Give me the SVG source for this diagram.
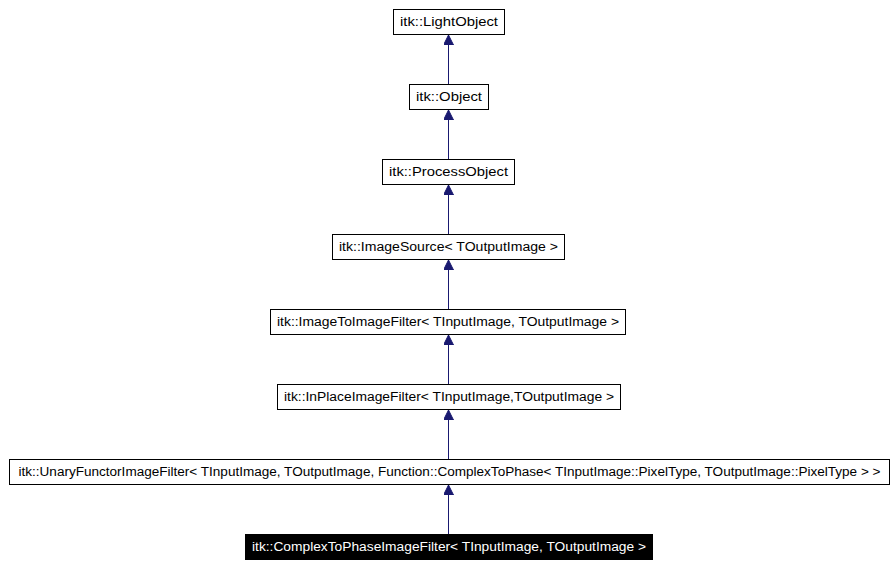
<svg xmlns="http://www.w3.org/2000/svg" width="895" height="564" viewBox="0 0 895 564">
<style>
.n rect{fill:#fff;stroke:#000;stroke-width:1}
.n text{font-family:"Liberation Sans",Arial,sans-serif;font-size:12.5px;text-anchor:middle;fill:#000}
#n8 rect{fill:#000}
#n8 text{fill:#fff}
.e{stroke:#191970;stroke-width:1;fill:none;marker-end:url(#a)}
</style>
<defs><marker id="a" markerWidth="10" markerHeight="12" refX="10" refY="5" orient="auto" markerUnits="userSpaceOnUse"><path d="M0,0 L10,5 L0,10 Z" fill="#191970" stroke="#191970"/></marker></defs>
<rect width="895" height="564" fill="#fff"/>
<g id="edges">
<line class="e" x1="448.5" y1="84" x2="448.5" y2="35"/>
<line class="e" x1="448.5" y1="159" x2="448.5" y2="110"/>
<line class="e" x1="448.5" y1="234" x2="448.5" y2="185"/>
<line class="e" x1="448.5" y1="309" x2="448.5" y2="260"/>
<line class="e" x1="448.5" y1="384" x2="448.5" y2="335"/>
<line class="e" x1="448.5" y1="459" x2="448.5" y2="410"/>
<line class="e" x1="448.5" y1="534" x2="448.5" y2="485"/>
</g>
<g id="n1" class="n"><rect x="393.5" y="9.5" width="111" height="25"/><text x="449" y="26" textLength="98" lengthAdjust="spacingAndGlyphs">itk::LightObject</text></g>
<g id="n2" class="n"><rect x="409.5" y="84.5" width="79" height="25"/><text x="449" y="101" textLength="66" lengthAdjust="spacingAndGlyphs">itk::Object</text></g>
<g id="n3" class="n"><rect x="382.5" y="159.5" width="132" height="25"/><text x="448.5" y="176" textLength="119" lengthAdjust="spacingAndGlyphs">itk::ProcessObject</text></g>
<g id="n4" class="n"><rect x="332.5" y="234.5" width="232" height="25"/><text x="448.5" y="251" textLength="219" lengthAdjust="spacingAndGlyphs">itk::ImageSource&lt; TOutputImage &gt;</text></g>
<g id="n5" class="n"><rect x="270.5" y="309.5" width="355" height="25"/><text x="448" y="326" textLength="342" lengthAdjust="spacingAndGlyphs">itk::ImageToImageFilter&lt; TInputImage, TOutputImage &gt;</text></g>
<g id="n6" class="n"><rect x="277.5" y="384.5" width="343" height="25"/><text x="449" y="401" textLength="330" lengthAdjust="spacingAndGlyphs">itk::InPlaceImageFilter&lt; TInputImage,TOutputImage &gt;</text></g>
<g id="n7" class="n"><rect x="9.5" y="459.5" width="880" height="25"/><text x="449.5" y="476" textLength="862" lengthAdjust="spacingAndGlyphs">itk::UnaryFunctorImageFilter&lt; TInputImage, TOutputImage, Function::ComplexToPhase&lt; TInputImage::PixelType, TOutputImage::PixelType &gt; &gt;</text></g>
<g id="n8" class="n"><rect x="245.5" y="534.5" width="407" height="25"/><text x="449" y="551" textLength="394" lengthAdjust="spacingAndGlyphs">itk::ComplexToPhaseImageFilter&lt; TInputImage, TOutputImage &gt;</text></g>
</svg>
